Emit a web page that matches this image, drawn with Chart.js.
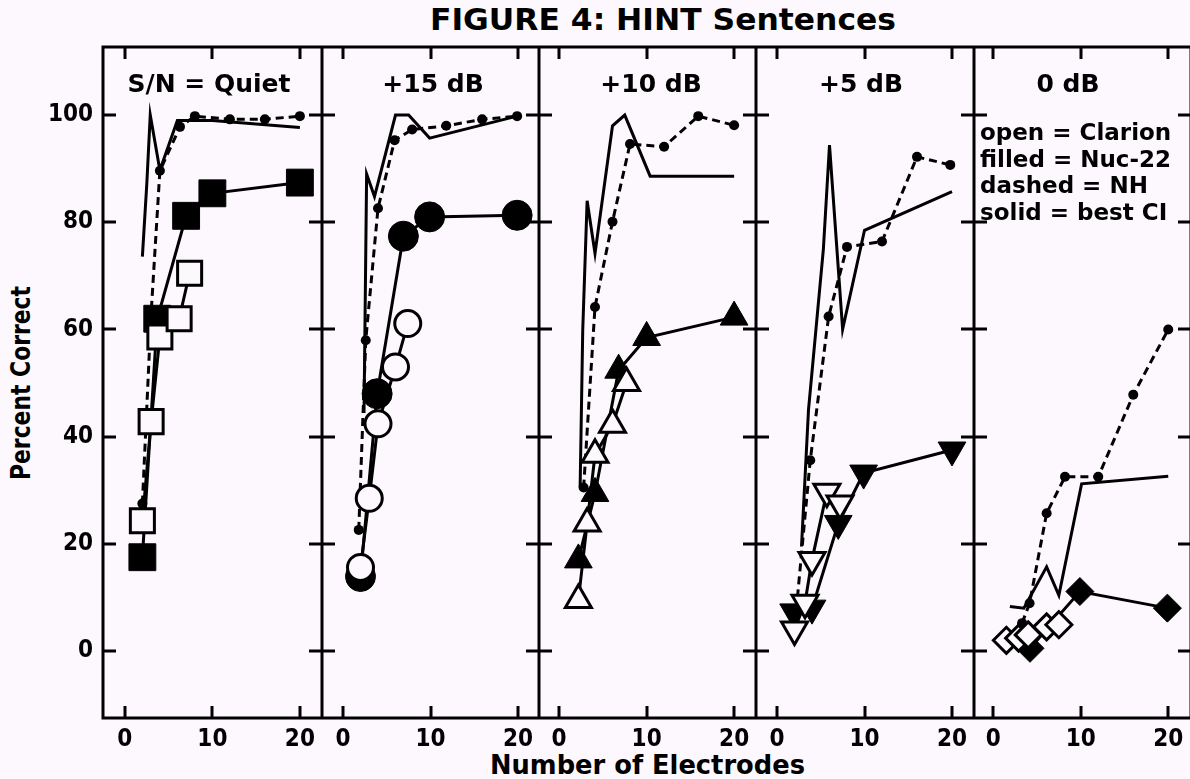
<!DOCTYPE html>
<html>
<head>
<meta charset="utf-8">
<script src="https://cdn.jsdelivr.net/npm/chart.js@4.4.1/dist/chart.umd.min.js"></script>
<style>
  html, body { margin: 0; padding: 0; background: #fdf8fd; }
  #fig { position: relative; width: 1190px; height: 779px; overflow: hidden; background: #fdf8fd; }
  #fig canvas { position: absolute; top: 0; }
  .txt { position: absolute; color: #000; white-space: nowrap; line-height: 1; font-weight: bold; }
  .cond { font-family: 'Liberation Sans Narrow', 'DejaVu Sans Condensed', sans-serif; }
  .wide { font-family: 'DejaVu Sans', sans-serif; }
</style>
</head>
<body>
<div id="fig">
  <div class="txt cond" id="figTitle" style="left:430px; top:5px; font-size:30px;">FIGURE 4: HINT Sentences</div>
  <div class="txt cond" id="xTitle" style="left:490px; top:752px; font-size:26px;">Number of Electrodes</div>
  <div class="txt cond" id="yTitle" style="left:8px; top:480px; font-size:26px; transform-origin:0 0;">Percent Correct</div>
  <div class="txt wide" id="legendText" style="left:980px; top:119px; font-size:23px; line-height:26.7px;">
    open = Clarion<br>filled = Nuc-22<br>dashed = NH<br>solid = best CI
  </div>
</div>

<script>
// ---- axes ----
const xTicks = [0, 10, 20];
const yTicks = [0, 20, 40, 60, 80, 100];
const panelTitles = ['S/N = Quiet', '+15 dB', '+10 dB', '+5 dB', '0 dB'];

// ---- data: [number of electrodes, percent correct] ----
// open = Clarion, filled = Nuc-22, dashed = NH, solid = best CI
const quietClarion = [[2, 24.3], [3, 42.8], [4, 58.6], [6.2, 62], [7.4, 70.5]];
const quietNuc = [[2, 17.5], [3.7, 62], [7, 81.2], [10, 85.4], [20, 87.4]];
const quietNH = [[2, 27.5], [3, 63], [4, 89.6], [6.3, 97.8], [8, 99.8], [12, 99.2], [16, 99.2], [20, 99.8]];
const quietBest = [[2, 73.6], [2.5, 87], [2.9, 100], [4, 89.7], [6, 99], [10, 99], [20, 97.7]];

const db15Clarion = [[2, 15.6], [3, 28.5], [4, 42.4], [6, 53], [7.4, 61.1]];
const db15Nuc = [[2, 13.9], [3.9, 48], [6.9, 77.4], [9.9, 81], [19.9, 81.3]];
const db15NH = [[1.8, 22.6], [2.6, 58], [4, 82.6], [5.9, 95.3], [7.9, 97.3], [11.8, 98], [15.9, 99.2], [19.9, 99.8]];
const db15Best = [[2.4, 44.4], [2.7, 89], [3.6, 84.8], [6, 100], [7.5, 100], [9.9, 95.7], [19.9, 99.8]];

const db10Clarion = [[2.2, 9.5], [3.2, 23.8], [4.1, 36.6], [6.1, 42.2], [7.7, 50]];
const db10Nuc = [[2.2, 17], [4.1, 29.4], [6.8, 52.4], [10, 58.5], [20, 62.3]];
const db10NH = [[2.8, 30.5], [4.1, 64.2], [6.1, 80.1], [8.1, 94.6], [12, 94.1], [15.9, 99.8], [20, 98.1]];
const db10Best = [[2.4, 30.6], [2.7, 60], [3.2, 84], [4.1, 74.2], [6.1, 98], [7.5, 100], [10.4, 88.6], [20, 88.6]];

const db5Clarion = [[2, 4], [3.2, 9], [4, 17], [5.7, 29.7], [7.2, 27.5]];
const db5Nuc = [[1.9, 7.3], [4, 8], [7, 23.8], [9.9, 33.2], [20, 37.5]];
const db5NH = [[2.2, 7.6], [3.8, 35.6], [5.9, 62.4], [8, 75.4], [12, 76.4], [16, 92.2], [19.8, 90.7]];
const db5Best = [[2.8, 19.5], [3.6, 45], [5.3, 75], [6, 94.4], [7.5, 60], [10, 78.5], [20, 85.7]];

const db0Clarion = [[1.5, 2], [2.9, 2.4], [4, 3], [6.1, 4.5], [7.5, 4.9]];
const db0Nuc = [[4.2, 0.5], [9.9, 11.1], [19.9, 8]];
const db0NH = [[3.3, 5.2], [4.15, 8.9], [6.1, 25.7], [8.2, 32.5], [12, 32.5], [16, 47.8], [20, 60]];
const db0Best = [[1.9, 8.3], [3.5, 8], [6.1, 15.7], [7.5, 10.4], [10.1, 31.2], [20, 32.6]];

const clarion = [quietClarion, db15Clarion, db10Clarion, db5Clarion, db0Clarion];
const nuc = [quietNuc, db15Nuc, db10Nuc, db5Nuc, db0Nuc];
const nh = [quietNH, db15NH, db10NH, db5NH, db0NH];
const best = [quietBest, db15Best, db10Best, db5Best, db0Best];

// ---- layout ----
const BG = '#fdf8fd';
const edges = [103, 322, 539, 756, 974, 1191];
const xMins = [-2.5, -2.4, -2.3, -2.4, -2.2];
const PX_PER_UNIT = 8.75;
const Y_MIN = -12.5, Y_MAX = 112.7;
const TOP = 47, BOTTOM = 718;

// marker per panel: style, rotation, open radius, filled radius
const markers = [
    { style: 'rect', rot: 0, open: 17, filled: 19 },
    { style: 'circle', rot: 0, open: 13, filled: 15 },
    { style: 'triangle', rot: 0, open: 15, filled: 16 },
    { style: 'triangle', rot: 180, open: 15, filled: 16 },
    { style: 'rectRot', rot: 0, open: 13, filled: 14 }
];
const titleCenters = [209, 433, 651, 861, 1068];

const toPts = (arr) => arr.map(([x, y]) => ({ x, y }));

const framePlugin = {
    id: 'frame',
    afterDatasetsDraw(chart) {
        const { ctx, chartArea: a, scales: { x, y } } = chart;
        ctx.save();
        ctx.strokeStyle = '#000';
        ctx.lineWidth = 3;
        ctx.strokeRect(a.left, a.top, a.right - a.left, a.bottom - a.top);
        ctx.beginPath();
        xTicks.forEach((v) => {
            const px = Math.round(x.getPixelForValue(v));
            ctx.moveTo(px, a.top); ctx.lineTo(px, a.top + 12);
            ctx.moveTo(px, a.bottom); ctx.lineTo(px, a.bottom - 12);
        });
        yTicks.forEach((v) => {
            const py = Math.round(y.getPixelForValue(v));
            ctx.moveTo(a.left, py); ctx.lineTo(a.left + 13, py);
            ctx.moveTo(a.right, py); ctx.lineTo(a.right - 13, py);
        });
        ctx.stroke();
        ctx.restore();
    }
};

const fig = document.getElementById('fig');
const tickFont = { family: "'Liberation Sans Narrow', 'DejaVu Sans Condensed', sans-serif", size: 24, weight: 'bold' };

// no automatic padding for overhanging tick labels
function noPad(axis) {
    axis.paddingLeft = 0; axis.paddingRight = 0;
    axis.paddingTop = 0; axis.paddingBottom = 0;
}

panelTitles.forEach((title, i) => {
    const left = i === 0 ? 0 : edges[i];
    const width = edges[i + 1] - left;
    const plotW = edges[i + 1] - edges[i];
    const canvas = document.createElement('canvas');
    canvas.width = width;
    canvas.height = 779;
    canvas.style.left = left + 'px';
    canvas.style.width = width + 'px';
    canvas.style.height = '779px';
    fig.appendChild(canvas);

    const m = markers[i];
    const open = {
        data: toPts(clarion[i]), showLine: true, borderColor: '#000', borderWidth: 3,
        pointStyle: m.style, pointRotation: m.rot, pointRadius: m.open,
        pointBackgroundColor: BG, pointBorderColor: '#000', pointBorderWidth: 3, clip: false
    };
    const filled = {
        data: toPts(nuc[i]), showLine: true, borderColor: '#000', borderWidth: 3,
        pointStyle: m.style, pointRotation: m.rot, pointRadius: m.filled,
        pointBackgroundColor: '#000', pointBorderColor: '#000', pointBorderWidth: 1, clip: false
    };
    const normal = {
        data: toPts(nh[i]), showLine: true, borderColor: '#000', borderWidth: 3, borderDash: [8, 5],
        pointStyle: 'circle', pointRadius: 5, pointBackgroundColor: '#000', pointBorderWidth: 0, clip: false
    };
    const bestCI = {
        data: toPts(best[i]), showLine: true, borderColor: '#000', borderWidth: 3,
        pointRadius: 0, clip: false
    };

    new Chart(canvas, {
        type: 'scatter',
        data: { datasets: [open, filled, normal, bestCI] },
        options: {
            responsive: false,
            animation: false,
            devicePixelRatio: 1,
            layout: { padding: { top: TOP, left: 0, right: 0, bottom: 0 }, autoPadding: false },
            plugins: { legend: { display: false }, tooltip: { enabled: false } },
            elements: { line: { tension: 0 } },
            scales: {
                x: {
                    type: 'linear',
                    min: xMins[i],
                    max: xMins[i] + plotW / PX_PER_UNIT,
                    afterBuildTicks: (axis) => { axis.ticks = xTicks.map((v) => ({ value: v })); },
                    afterFit: (axis) => { axis.height = 779 - BOTTOM; noPad(axis); },
                    grid: { display: false, drawTicks: false },
                    border: { display: false },
                    ticks: { color: '#000', font: tickFont, padding: 7, maxRotation: 0, autoSkip: false }
                },
                y: {
                    type: 'linear',
                    display: i === 0,
                    min: Y_MIN,
                    max: Y_MAX,
                    afterBuildTicks: (axis) => { axis.ticks = yTicks.map((v) => ({ value: v })); },
                    afterFit: (axis) => { axis.width = i === 0 ? edges[0] : 0; noPad(axis); },
                    grid: { display: false, drawTicks: false },
                    border: { display: false },
                    ticks: { color: '#000', font: tickFont, padding: 10 }
                }
            }
        },
        plugins: [framePlugin]
    });

    // panel heading
    const t = document.createElement('div');
    t.className = 'txt wide';
    t.textContent = title;
    t.style.fontSize = '25px';
    t.style.top = '71px';
    t.style.left = titleCenters[i] + 'px';
    t.style.transform = 'translateX(-50%)';
    fig.appendChild(t);
});

// keep legend text above canvases
fig.appendChild(document.getElementById('legendText'));

// squeeze titles to the reference widths
function fitWidth(el, target) {
    const w = el.getBoundingClientRect().width;
    el.style.transformOrigin = '0 0';
    el.style.transform = 'scaleX(' + (target / w) + ')';
}
fitWidth(document.getElementById('figTitle'), 466);
fitWidth(document.getElementById('xTitle'), 315);
const yt = document.getElementById('yTitle');
const ytw = yt.getBoundingClientRect().width;
yt.style.transform = 'rotate(-90deg) scaleX(' + (194 / ytw) + ')';
</script>
</body>
</html>
